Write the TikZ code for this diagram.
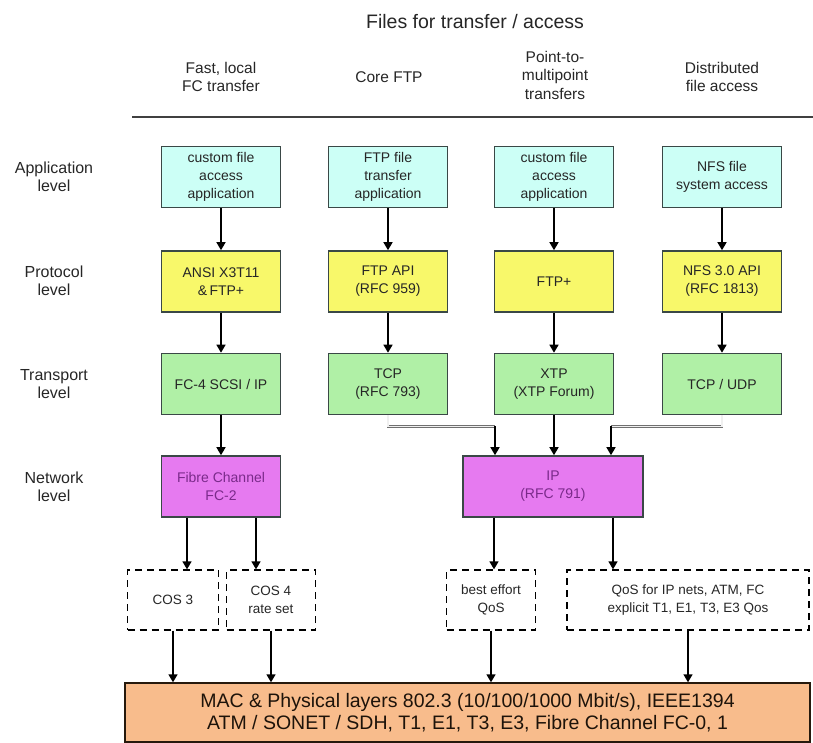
\documentclass[tikz,border=0pt]{standalone}
\usepackage{fontspec}
\setmainfont{Liberation Sans}
\usetikzlibrary{arrows.meta,calc}

\definecolor{appfill}{HTML}{CCFFF6}
\definecolor{protofill}{HTML}{F8F86A}
\definecolor{transfill}{HTML}{B0F0A6}
\definecolor{netfill}{HTML}{E67AF0}
\definecolor{physfill}{HTML}{F8BC8C}
\definecolor{boxline}{HTML}{3A4846}
\definecolor{nettext}{HTML}{7A2A8A}
\definecolor{txt}{HTML}{262626}
\definecolor{linkgray}{HTML}{707070}

\begin{document}
\begin{tikzpicture}[x=1pt,y=-1pt,
  box/.style={draw=boxline, line width=1.6pt, minimum width=119pt, minimum height=61pt,
    inner sep=2pt, align=center, text=txt, font=\fontsize{14}{18}\selectfont},
  appbox/.style={box, fill=appfill},
  protobox/.style={box, fill=protofill},
  transbox/.style={box, fill=transfill},
  netbox/.style={box, fill=netfill, text=nettext},
  qosbox/.style={draw=black, line width=1.3pt, dash pattern=on 7pt off 5pt,
    minimum height=60pt, inner sep=0pt, align=center, text=txt,
    font=\fontsize{13.5}{18}\selectfont},
  physbox/.style={draw=black!80!brown, line width=1.4pt, fill=physfill,
    minimum width=685pt, minimum height=59pt, inner sep=0pt, align=center,
    text=black!85!brown, font=\fontsize{19.5}{22}\selectfont},
  rowlabel/.style={align=center, text=txt, font=\fontsize{16}{18.5}\selectfont},
  colhead/.style={align=center, text=txt, font=\fontsize{15.5}{18.5}\selectfont},
  arr/.style={draw=black, line width=1.5pt, -{Triangle[width=9pt,length=8pt]}},
  link/.style={draw=linkgray, line width=0.7pt, double=white!88!gray, double distance=1.3pt}
]
\useasboundingbox (0,0) rectangle (813,743);

% title and column headings
\node[text=txt, font=\fontsize{19.5}{22}\selectfont] (title) at (475,22) {Files for transfer / access};
\node[colhead] (h1) at (221,77) {Fast, local\\FC transfer};
\node[colhead] (h2) at (389,77) {Core FTP};
\node[colhead] (h3) at (555,75) {Point-to-\\multipoint\\transfers};
\node[colhead] (h4) at (722,77) {Distributed\\file access};
\coordinate (rulestart) at (132,117);
\coordinate (ruleend) at (813,117);
\draw[draw=black!75, line width=2.4pt] (rulestart) -- (ruleend);

% layer names
\node[rowlabel] (lapp)   at (54,177)   {Application\\level};
\node[rowlabel] (lproto) at (54,281)   {Protocol\\level};
\node[rowlabel] (ltrans) at (54,384)   {Transport\\level};
\node[rowlabel] (lnet)   at (54,487)   {Network\\level};

% application level
\node[appbox] (app1) at (221,177) {custom file\\access\\application};
\node[appbox] (app2) at (388,177) {FTP file\\transfer\\application};
\node[appbox] (app3) at (554,177) {custom file\\access\\application};
\node[appbox] (app4) at (722,177) {NFS file\\system access};

% protocol level
\node[protobox] (pro1) at (221,281.5) {ANSI X3T11\\\&\,FTP+};
\node[protobox] (pro2) at (388,281.5) {FTP API\\(RFC 959)};
\node[protobox] (pro3) at (554,281.5) {FTP+};
\node[protobox] (pro4) at (722,281.5) {NFS 3.0 API\\(RFC 1813)};

% transport level
\node[transbox] (tr1) at (221,384) {FC-4 SCSI / IP};
\node[transbox] (tr2) at (388,384) {TCP\\(RFC 793)};
\node[transbox] (tr3) at (554,384) {XTP\\(XTP Forum)};
\node[transbox] (tr4) at (722,384) {TCP / UDP};

% network level
\node[netbox] (fc) at (221,486.5) {Fibre Channel\\FC-2};
\node[netbox, minimum width=180pt] (ip) at (553,486.5) {IP\\(RFC 791)};

% service classes
\node[qosbox, minimum width=91pt]  (cos3) at (173,600) {COS 3};
\node[qosbox, minimum width=89pt]  (cos4) at (271,600) {COS 4\\rate set};
\node[qosbox, minimum width=89pt]  (best) at (491,600) {best effort\\QoS};
\node[qosbox, minimum width=242pt] (qos)  at (688,600) {QoS for IP nets, ATM, FC\\explicit T1, E1, T3, E3 Qos};

% physical layers
\node[physbox] (phys) at (467.5,712.5) {MAC \& Physical layers 802.3 (10/100/1000 Mbit/s), IEEE1394\\ATM / SONET / SDH, T1, E1, T3, E3, Fibre Channel FC-0, 1};

% application -> protocol -> transport
\foreach \i in {1,2,3,4} {
  \draw[arr] (app\i) -- (pro\i);
  \draw[arr] (pro\i) -- (tr\i);
}

% transport -> network
\draw[arr] (tr1) -- (fc);
\draw[arr] (tr3.south) -- (tr3.south |- ip.north);
\coordinate (tcpbend) at ([xshift=-58pt,yshift=-11pt]ip.north |- tr2.south);
\coordinate (udpbend) at ([xshift=58pt,yshift=-11pt]ip.north |- tr4.south);
\draw[link] (tr2.south) |- (tcpbend);
\draw[arr] (tcpbend) -- (tcpbend |- ip.north);
\draw[link] (tr4.south) |- (udpbend);
\draw[arr] (udpbend) -- (udpbend |- ip.north);

% network -> service classes
\draw[arr] ([xshift=-34pt]fc.south) -- ([xshift=-34pt]fc.south |- cos3.north);
\draw[arr] ([xshift=35pt]fc.south) -- ([xshift=35pt]fc.south |- cos4.north);
\draw[arr] ([xshift=-59pt]ip.south) -- ([xshift=-59pt]ip.south |- best.north);
\draw[arr] ([xshift=60pt]ip.south) -- ([xshift=60pt]ip.south |- qos.north);

% service classes -> physical layers
\foreach \c in {cos3,cos4,best,qos} {
  \draw[arr] (\c.south) -- (\c.south |- phys.north);
}
\end{tikzpicture}
\end{document}
